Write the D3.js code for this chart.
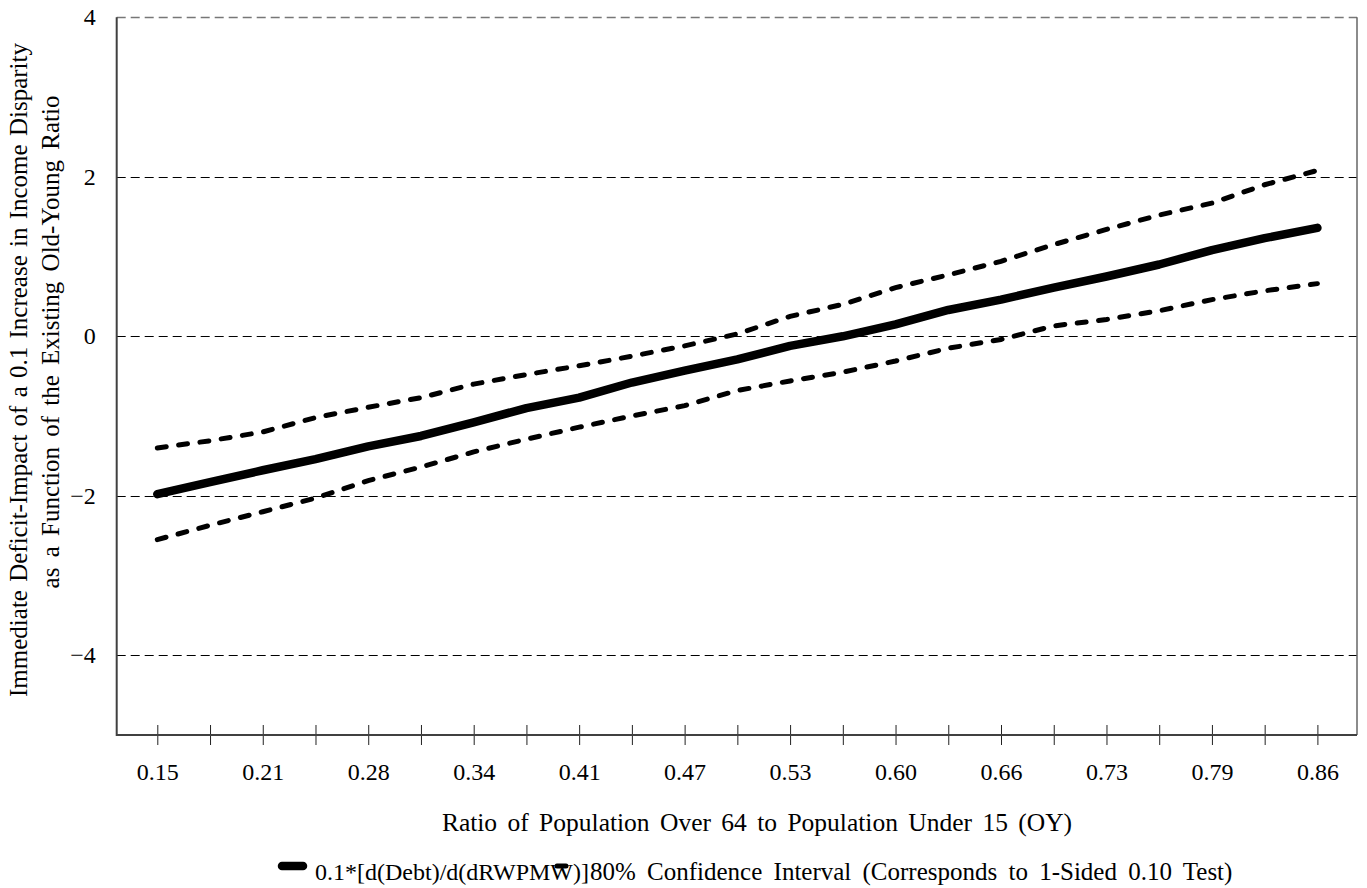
<!DOCTYPE html>
<html>
<head>
<meta charset="utf-8">
<script src="https://cdn.jsdelivr.net/npm/d3@7"></script>
<style>
  body { margin: 0; background: #fff; }
  svg text { font-family: "Liberation Serif", "Times New Roman", serif; fill: #000; }
</style>
</head>
<body>
<svg id="chart" width="1367" height="888"></svg>
<script>
// Data
// ------------------------------

var categories = ["0.15", "0.18", "0.21", "0.25", "0.28", "0.31", "0.34", "0.38", "0.41", "0.44", "0.47", "0.50",
                  "0.53", "0.57", "0.60", "0.63", "0.66", "0.70", "0.73", "0.76", "0.79", "0.83", "0.86"];
// only every other category carries a label
var shownLabels = ["0.15", "0.21", "0.28", "0.34", "0.41", "0.47", "0.53", "0.60", "0.66", "0.73", "0.79", "0.86"];

var effect = [-1.98, -1.83, -1.68, -1.54, -1.38, -1.25, -1.08, -0.90, -0.77, -0.58, -0.43, -0.29,
              -0.12, 0.00, 0.15, 0.33, 0.46, 0.61, 0.75, 0.90, 1.08, 1.23, 1.36];
var upperCI = [-1.40, -1.31, -1.20, -1.02, -0.89, -0.77, -0.60, -0.48, -0.37, -0.25, -0.12, 0.03,
               0.25, 0.40, 0.61, 0.77, 0.94, 1.15, 1.34, 1.52, 1.67, 1.90, 2.08];
var lowerCI = [-2.55, -2.37, -2.20, -2.03, -1.81, -1.64, -1.45, -1.29, -1.14, -1.00, -0.87, -0.68,
               -0.56, -0.45, -0.31, -0.15, -0.04, 0.13, 0.21, 0.32, 0.46, 0.57, 0.66];

var yTicks = [-4, -2, 0, 2, 4];

var legendLabels = ["0.1*[d(Debt)/d(dRWPMW)]", "80% Confidence Interval (Corresponds to 1-Sided 0.10 Test)"];
var xTitle = "Ratio of Population Over 64 to Population Under 15 (OY)";
var yTitle = ["Immediate Deficit-Impact of a 0.1 Increase in Income Disparity",
              "as a Function of the Existing Old-Young Ratio"];

// Scales
// ------------------------------

var plot = { left: 116.7, right: 1357, top: 17.3, bottom: 735 };
var fontFam = "'Liberation Serif', 'Times New Roman', serif";

var x = d3.scalePoint()
    .domain(categories)
    .range([157.3, 1317.4]);

var y = d3.scaleLinear()
    .domain([-5, 4])
    .range([plot.bottom, plot.top]);

var svg = d3.select("#chart");

// Gridlines
svg.append("g")
    .selectAll("line")
    .data(yTicks)
    .enter().append("line")
    .attr("x1", plot.left)
    .attr("x2", plot.right)
    .attr("y1", function(d) { return Math.round(y(d)) + 0.5; })
    .attr("y2", function(d) { return Math.round(y(d)) + 0.5; })
    .attr("stroke", function(d) { return d === 4 ? "#777" : "#000"; })
    .attr("stroke-width", function(d) { return d === 4 ? 1.5 : 1; })
    .attr("stroke-dasharray", "9,5");

// right border
svg.append("line")
    .attr("x1", plot.right).attr("x2", plot.right)
    .attr("y1", plot.top).attr("y2", plot.bottom)
    .attr("stroke", "#666")
    .attr("stroke-width", 1.5);

// Axes
// ------------------------------

var xAxis = d3.axisBottom(x)
    .tickSizeInner(10)
    .tickSizeOuter(0)
    .tickPadding(18)
    .tickFormat(function(d) { return shownLabels.indexOf(d) > -1 ? d : ""; });

var gx = svg.append("g")
    .attr("transform", "translate(0," + plot.bottom + ")")
    .call(xAxis);
gx.select(".domain").remove();
gx.selectAll(".tick line")
    .attr("y1", -10)
    .attr("stroke", "#222");
gx.selectAll(".tick text")
    .style("font-size", "24px")
    .style("font-family", fontFam);

// plot frame left + bottom
svg.append("path")
    .attr("d", "M" + plot.left + "," + plot.top + "V" + plot.bottom + "H" + plot.right)
    .attr("fill", "none")
    .attr("stroke", "#404040")
    .attr("stroke-width", 2);

var gy = svg.append("g")
    .attr("transform", "translate(" + plot.left + ",0)")
    .call(d3.axisLeft(y).tickValues(yTicks).tickSize(0).tickPadding(21).tickFormat(d3.format("d")));
gy.select(".domain").remove();
gy.selectAll(".tick text")
    .style("font-size", "24px")
    .style("font-family", fontFam);

// Titles
svg.append("text")
    .attr("x", 757)
    .attr("y", 831)
    .attr("text-anchor", "middle")
    .style("font-size", "25.5px")
    .style("word-spacing", "4px")
    .text(xTitle);

svg.append("text")
    .attr("transform", "translate(27,370) rotate(-90)")
    .attr("text-anchor", "middle")
    .style("font-size", "25px")
    .style("word-spacing", "2px")
    .text(yTitle[0]);

svg.append("text")
    .attr("transform", "translate(59,342) rotate(-90)")
    .attr("text-anchor", "middle")
    .style("font-size", "25px")
    .style("word-spacing", "4px")
    .text(yTitle[1]);

// Series
// ------------------------------

function lineFor(values) {
  return d3.line()
      .x(function(d, i) { return x(categories[i]); })
      .y(function(d) { return y(d); })(values);
}

svg.append("path")
    .attr("d", lineFor(upperCI))
    .attr("fill", "none")
    .attr("stroke", "#000")
    .attr("stroke-width", 5)
    .attr("stroke-linecap", "round")
    .attr("stroke-dasharray", "9,12.5");

svg.append("path")
    .attr("d", lineFor(lowerCI))
    .attr("fill", "none")
    .attr("stroke", "#000")
    .attr("stroke-width", 5)
    .attr("stroke-linecap", "round")
    .attr("stroke-dasharray", "9,12.5");

svg.append("path")
    .attr("d", lineFor(effect))
    .attr("fill", "none")
    .attr("stroke", "#000")
    .attr("stroke-width", 8.5)
    .attr("stroke-linecap", "round")
    .attr("stroke-linejoin", "round");

// Legend (samples overlap the text like the original)
// ------------------------------

var legend = svg.append("g").attr("transform", "translate(280,866)");

legend.append("line")
    .attr("x1", 2).attr("x2", 23)
    .attr("stroke", "#000")
    .attr("stroke-width", 8.5)
    .attr("stroke-linecap", "round");
legend.append("text")
    .attr("x", 35).attr("y", 14)
    .style("font-size", "24px")
    .text(legendLabels[0]);

legend.append("line")
    .attr("x1", 277).attr("x2", 298)
    .attr("stroke", "#000")
    .attr("stroke-width", 5)
    .attr("stroke-linecap", "round")
    .attr("stroke-dasharray", "9,12.5");
legend.append("text")
    .attr("x", 310).attr("y", 14)
    .style("font-size", "25px")
    .style("word-spacing", "5px")
    .text(legendLabels[1]);
</script>
</body>
</html>
